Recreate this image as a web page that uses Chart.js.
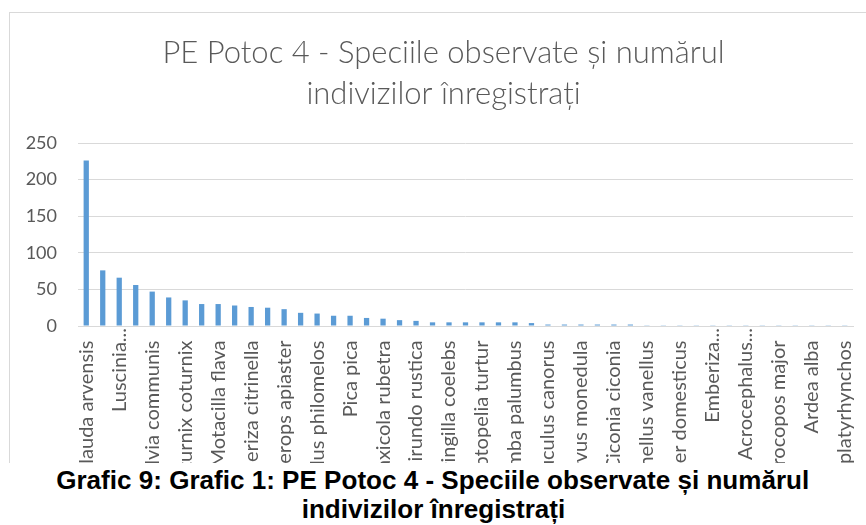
<!DOCTYPE html>
<html>
<head>
<meta charset="utf-8">
<script src="https://cdn.jsdelivr.net/npm/chart.js@4.4.1/dist/chart.umd.min.js"></script>
<style>
html, body { margin: 0; padding: 0; background: #fff; width: 866px; height: 525px; overflow: hidden; }
#clip { position: absolute; left: 0; top: 0; width: 866px; height: 463px; overflow: hidden; }
#frame { position: absolute; left: 9px; top: 12px; width: 870px; height: 470px; border-top: 1px solid #d9d9d9; border-left: 1px solid #d9d9d9; }
#caption { position: absolute; left: 0; top: 466px; width: 866px; text-align: center; }
#caption div { display: inline-block; font: bold 26px "Liberation Sans", Arial, sans-serif; line-height: 29px; color: #000; transform-origin: 50% 50%; white-space: nowrap; }
</style>
</head>
<body>
<div id="clip"><div id="frame"><canvas id="myChart" width="870" height="470"></canvas></div></div>
<div id="caption">
  <div id="cap1">Grafic 9: Grafic 1: PE Potoc 4 - Speciile observate și numărul</div><br>
  <div id="cap2">indivizilor înregistrați</div>
</div>
<script>
// species as they appear on the category axis (only every other one is drawn)
const categories = [
    "Alauda arvensis", "Sturnus vulgaris", "Luscinia...", "Passer montanus",
    "Sylvia communis", "Lanius collurio", "Coturnix coturnix", "Galerida cristata",
    "Motacilla flava", "Corvus frugilegus", "Emberiza citrinella", "Parus major",
    "Merops apiaster", "Corvus cornix", "Turdus philomelos", "Oriolus oriolus",
    "Pica pica", "Carduelis carduelis", "Saxicola rubetra", "Upupa epops",
    "Hirundo rustica", "Sylvia atricapilla", "Fringilla coelebs", "Phasianus colchicus",
    "Streptopelia turtur", "Buteo buteo", "Columba palumbus", "Falco tinnunculus",
    "Cuculus canorus", "Delichon urbicum", "Corvus monedula", "Perdix perdix",
    "Ciconia ciconia", "Motacilla alba", "Vanellus vanellus", "Garrulus glandarius",
    "Passer domesticus", "Lanius minor", "Emberiza...", "Cyanistes caeruleus",
    "Acrocephalus...", "Chloris chloris", "Dendrocopos major", "Anthus trivialis",
    "Ardea alba", "Circus aeruginosus", "Anas platyrhynchos",
];

const counts = [
    226, 76, 66, 56, 47, 39, 35, 30, 30, 28, 26, 25, 23, 18, 17, 14,
    14, 11, 10, 8, 7, 5, 5, 5, 5, 5, 5, 4, 2, 2, 2, 2,
    2, 2, 1, 1, 1, 1, 1, 1, 1, 1, 1, 1, 1, 1, 1,
];

const titleLines = ["PE Potoc 4 - Speciile observate și numărul", "indivizilor înregistrați"];
const yMax = 250;
const yStep = 50;

const grey = "#595959";

const ctx = document.getElementById("myChart");
const chart = new Chart(ctx, {
    type: "bar",
    data: {
        labels: categories,
        datasets: [{
            label: "Număr indivizi",
            data: counts,
            backgroundColor: "#5b9bd5",
            barPercentage: 0.32,
            categoryPercentage: 1.0,
        }],
    },
    options: {
        responsive: false,
        animation: false,
        layout: { padding: { left: 0, right: 3, top: 0, bottom: 0 } },
        plugins: {
            legend: { display: false },
            tooltip: { enabled: false },
            title: {
                display: true,
                text: titleLines,
                color: grey,
                font: { family: "Lato", size: 31, weight: "300", lineHeight: 41 / 31 },
                padding: { top: 19, bottom: 29 },
            },
        },
        scales: {
            x: {
                grid: { display: false, drawTicks: false },
                border: { display: true, color: "#d9d9d9", width: 1 },
                ticks: {
                    autoSkip: false,
                    maxRotation: 90,
                    minRotation: 90,
                    padding: 2,
                    color: grey,
                    font: { family: "Lato", size: 20 },
                    callback: function (value, index) {
                        if (index % 2 != 0) {
                            return "";
                        }
                        let label = categories[index];
                        // excel pushes the untruncated labels a little away from the axis
                        return label.endsWith("...") ? label : label + "\u2002\u2009";
                    },
                },
                afterFit: (scale) => {
                    scale.height = 157;
                },
            },
            y: {
                min: 0,
                max: yMax,
                grid: { color: "#d9d9d9", lineWidth: 1, drawTicks: false },
                border: { display: false },
                ticks: {
                    stepSize: yStep,
                    padding: 21,
                    color: grey,
                    font: { family: "Lato", size: 18 },
                },
                afterFit: (scale) => {
                    scale.width = 68;
                },
            },
            // empty strip on the right so the title sits where excel put it
            yRight: {
                position: "right",
                grid: { display: false, drawTicks: false },
                border: { display: false },
                ticks: { display: false },
                afterFit: (scale) => {
                    scale.width = 24;
                },
            },
        },
    },
});

// squeeze the caption like the narrow bold text in the document
let cap1 = document.getElementById("cap1");
let cap2 = document.getElementById("cap2");
let s = 753 / cap1.getBoundingClientRect().width;
cap1.style.transform = "scaleX(" + s + ")";
cap2.style.transform = "scaleX(" + s + ")";
</script>
</body>
</html>
